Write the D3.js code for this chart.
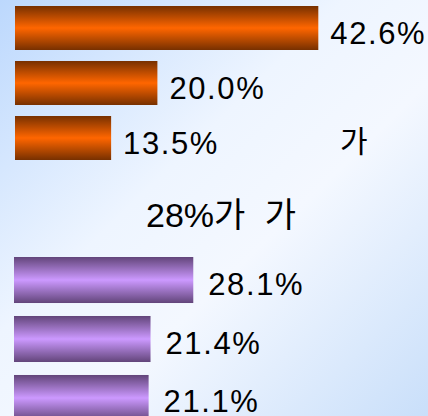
<!DOCTYPE html>
<html>
<head>
<meta charset="utf-8">
<script src="https://cdn.jsdelivr.net/npm/d3@7"></script>
<style>
  html, body { margin: 0; padding: 0; }
  svg { display: block; }
</style>
</head>
<body>
<svg id="chart" width="428" height="416"></svg>
<script>
// Upper group (orange) and lower group (purple) shares, in percent
const upperCategories = ["a1", "a2", "a3"];
const upperValues = [42.6, 20.0, 13.5];
const lowerCategories = ["b1", "b2", "b3"];
const lowerValues = [28.1, 21.4, 21.1];
const headline = "28%가 가";
const sideNote = "가";

const W = 428, H = 416;
const svg = d3.select("#chart");
const defs = svg.append("defs");

// Page background: soft blue in the corners, near white through the middle
const bg = defs.append("linearGradient").attr("id", "bg")
  .attr("x1", "0%").attr("y1", "0%").attr("x2", "100%").attr("y2", "100%");
[["0%", "#bcd8fd"], ["40%", "#eef5ff"], ["60%", "#f4f8ff"], ["100%", "#c9dffa"]]
  .forEach(([o, c]) => bg.append("stop").attr("offset", o).attr("stop-color", c));
svg.append("rect").attr("width", W).attr("height", H).attr("fill", "url(#bg)");

// Cylinder-like vertical shading for the bars
function barGradient(id, edge, mid) {
  const g = defs.append("linearGradient").attr("id", id)
    .attr("x1", "0%").attr("y1", "0%").attr("x2", "0%").attr("y2", "100%");
  [["0%", edge], ["50%", mid], ["100%", edge]]
    .forEach(([o, c]) => g.append("stop").attr("offset", o).attr("stop-color", c));
}
barGradient("gOrange", "#773000", "#ff6600");
barGradient("gPurple", "#62457a", "#cc99ff");

const labelFont = "'Liberation Sans', Arial, sans-serif";

function drawGroup(cats, vals, x, y, fill, baseX, gap, drop) {
  const g = svg.append("g");
  g.selectAll("rect").data(vals).join("rect")
    .attr("x", baseX)
    .attr("y", (d, i) => y(cats[i]))
    .attr("width", d => x(d))
    .attr("height", y.bandwidth())
    .attr("fill", fill);
  g.selectAll("text").data(vals).join("text")
    .attr("x", d => baseX + x(d) + gap)
    .attr("y", (d, i) => y(cats[i]) + y.bandwidth() / 2 + drop)
    .attr("font-family", labelFont)
    .attr("font-size", 31)
    .attr("letter-spacing", 1.6)
    .attr("fill", "#000")
    .text(d => d.toFixed(1) + "%");
}

const xUpper = d3.scaleLinear().domain([0, 100]).range([0, 712]);
const yUpper = d3.scaleBand().domain(upperCategories).range([6, 160]).paddingInner(0.2);
drawGroup(upperCategories, upperValues, xUpper, yUpper, "url(#gOrange)", 15, 12, 15.5);

const xLower = d3.scaleLinear().domain([0, 100]).range([0, 638]);
const yLower = d3.scaleBand().domain(lowerCategories).range([257, 421]).paddingInner(0.22);
drawGroup(lowerCategories, lowerValues, xLower, yLower, "url(#gPurple)", 14, 15, 14.5);

// Headline between the two groups and a short note beside the third bar
svg.append("text")
  .attr("x", 146).attr("y", 227)
  .attr("font-family", "'Liberation Sans', Arial, 'Noto Sans CJK KR', sans-serif")
  .attr("font-size", 34)
  .attr("word-spacing", 10)
  .attr("fill", "#000")
  .text(headline);

svg.append("text")
  .attr("x", 340).attr("y", 152)
  .attr("font-family", "'Noto Sans CJK KR', sans-serif")
  .attr("font-size", 30)
  .attr("fill", "#000")
  .text(sideNote);
</script>
</body>
</html>
